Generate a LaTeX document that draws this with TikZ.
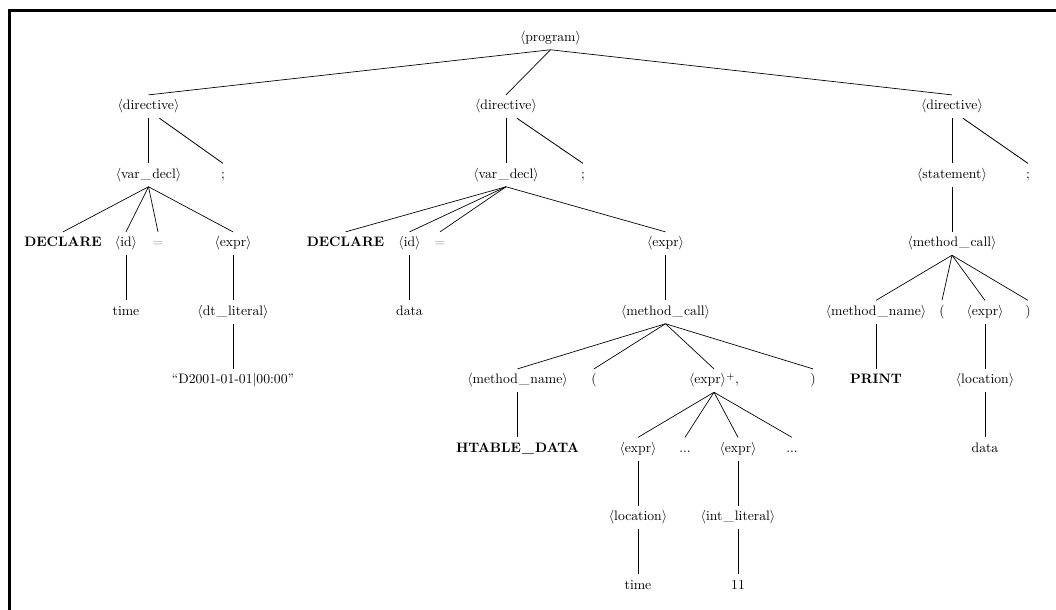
\documentclass[tikz,border=0pt]{standalone}
\newcommand\us{\kern0.8pt\_\kern0.8pt}
\begin{document}
\begin{tikzpicture}[x=0.73pt,y=-0.73pt,
		sym/.style={anchor=base,text height=7.5pt,text depth=2.5pt,inner sep=3.33pt},
		kw/.style={sym,font=\bfseries},
		faint/.style={sym,text=black!40}]
		\useasboundingbox (0,0) rectangle (1056,610);
		\draw[line width=2pt] (9.5,611) -- (9.5,10.5) -- (1057,10.5);
		% level 0--2
		\node[sym] (prog) at (550.5,41.5) {$\langle$program$\rangle$};
		\node[sym] (dirA) at (148.5,110) {$\langle$directive$\rangle$};
		\node[sym] (dirB) at (506,110) {$\langle$directive$\rangle$};
		\node[sym] (dirC) at (952,110) {$\langle$directive$\rangle$};
		\node[sym] (declA) at (148.5,178.5) {$\langle$var\us decl$\rangle$};
		\node[sym] (semiA) at (223,178.5) {;};
		\node[sym] (declB) at (506,178.5) {$\langle$var\us decl$\rangle$};
		\node[sym] (semiB) at (583,178.5) {;};
		\node[sym] (stmt) at (952,178.5) {$\langle$statement$\rangle$};
		\node[sym] (semiC) at (1028,178.5) {;};
		% level 3
		\node[kw] (kwA) at (63,247) {DECLARE};
		\node[sym] (idA) at (126,247) {$\langle$id$\rangle$};
		\node[faint] (eqA) at (158,247) {=};
		\node[sym] (exprA) at (233,247) {$\langle$expr$\rangle$};
		\node[kw] (kwB) at (345.5,247) {DECLARE};
		\node[sym] (idB) at (409.5,247) {$\langle$id$\rangle$};
		\node[faint] (eqB) at (440,247) {=};
		\node[sym] (exprB) at (665.5,247) {$\langle$expr$\rangle$};
		\node[sym] (callC) at (952,247) {$\langle$method\us call$\rangle$};
		% level 4
		\node[sym] (timeA) at (126,315.5) {time};
		\node[sym] (dtlit) at (233,315.5) {$\langle$dt\us literal$\rangle$};
		\node[sym] (dataB) at (409.5,315.5) {data};
		\node[sym] (callB) at (665.5,315.5) {$\langle$method\us call$\rangle$};
		\node[sym] (mnameC) at (876,315.5) {$\langle$method\us name$\rangle$};
		\node[sym] (lparC) at (942,315.5) {(};
		\node[sym] (exprC) at (985,315.5) {$\langle$expr$\rangle$};
		\node[sym] (rparC) at (1028,315.5) {)};
		% level 5
		\node[sym] (strlit) at (233,384) {``D2001-01-01$|$00:00''};
		\node[sym] (mnameB) at (517.5,384) {$\langle$method\us name$\rangle$};
		\node[sym] (lparB) at (594,384) {(};
		\node[sym] (exprs) at (714,384) {$\langle$expr$\rangle^+$,};
		\node[sym] (rparB) at (813,384) {)};
		\node[kw] (kwC) at (876,384) {PRINT};
		\node[sym] (locC) at (985,384) {$\langle$location$\rangle$};
		% level 6--8
		\node[kw] (kwD) at (517.5,452.5) {HTABLE\us DATA};
		\node[sym] (exprD) at (638,452.5) {$\langle$expr$\rangle$};
		\node[sym] (dotsA) at (685,452.5) {...};
		\node[sym] (exprE) at (738,452.5) {$\langle$expr$\rangle$};
		\node[sym] (dotsB) at (792,452.5) {...};
		\node[sym] (dataC) at (985,452.5) {data};
		\node[sym] (loc) at (638,521) {$\langle$location$\rangle$};
		\node[sym] (intlit) at (738,521) {$\langle$int\us literal$\rangle$};
		\node[sym] (timeB) at (638,589.5) {time};
		\node[sym] (num) at (738,589.5) {11};
		% edges
		\foreach \p/\c in {prog/dirA,prog/dirB,prog/dirC,
				dirA/declA,dirB/declB,dirC/stmt,
				declA/kwA,declA/idA,declA/eqA,declA/exprA,
				idA/timeA,exprA/dtlit,dtlit/strlit,
				declB/kwB,declB/idB,declB/eqB,declB/exprB,
				idB/dataB,exprB/callB,
				callB/mnameB,callB/lparB,callB/exprs,callB/rparB,
				mnameB/kwD,exprs/exprD,exprs/dotsA,exprs/exprE,exprs/dotsB,
				exprD/loc,exprE/intlit,loc/timeB,intlit/num,
				stmt/callC,callC/mnameC,callC/lparC,callC/exprC,callC/rparC,
				mnameC/kwC,exprC/locC,locC/dataC}
			\draw[line width=0.5pt] (\p.south) -- (\c.north);
		\foreach \p/\c in {dirA/semiA,dirB/semiB,dirC/semiC}
			\draw[line width=0.6pt] ([xshift=8pt]\p.south) -- (\c.north);
	\end{tikzpicture}
\end{document}
